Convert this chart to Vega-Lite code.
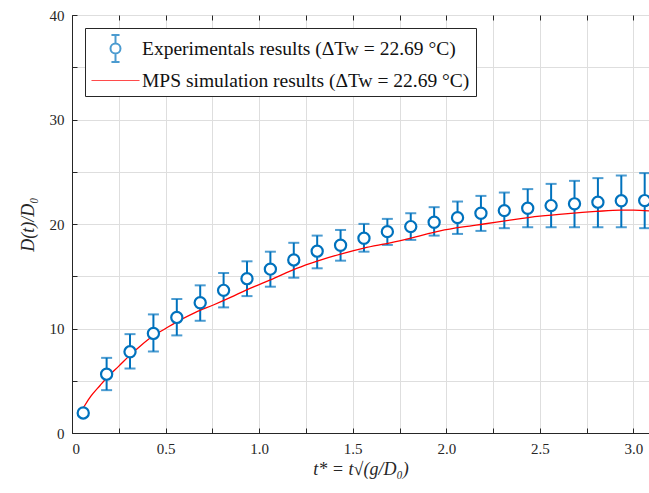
{
  "$schema": "https://vega.github.io/schema/vega-lite/v6.json",
  "width": 577,
  "height": 418,
  "autosize": {"type": "none"},
  "padding": {"left": 72, "top": 15, "right": 0, "bottom": 60},
  "background": "white",
  "config": {
    "view": {"stroke": "#262626", "strokeWidth": 1},
    "font": "Liberation Serif",
    "axis": {
      "domainColor": "#262626",
      "tickColor": "#262626",
      "labelColor": "#262626",
      "titleColor": "#262626",
      "labelFont": "Liberation Serif",
      "titleFont": "Liberation Serif",
      "labelFontSize": 15,
      "titleFontSize": 18,
      "titleFontWeight": "normal",
      "titleFontStyle": "italic",
      "gridColor": "#dedede",
      "gridWidth": 1,
      "tickSize": -5,
      "tickWidth": 1
    },
    "axisX": {"labelFont": "Liberation Serif"},
    "axisY": {
      "labelFont": "Liberation Serif",
      "values": [0, 5, 10, 15, 20, 25, 30, 35, 40],
      "labelExpr": "datum.value % 10 == 0 ? datum.label : ''",
      "grid": true,
      "labelPadding": 13,
      "titlePadding": 12
    },
    "legend": {
      "orient": "top-left",
      "offset": 13,
      "fillColor": "white",
      "strokeColor": "#262626",
      "padding": 6,
      "labelFont": "Liberation Serif",
      "labelFontSize": 19.5,
      "labelColor": "#111111",
      "labelLimit": 600,
      "symbolSize": 729,
      "symbolOffset": 10,
      "rowPadding": -1,
      "labelOffset": 12
    }
  },
  "datasets": {
    "exp": [
      {"t": 0.06, "y": 1.92, "lo": 1.8, "hi": 2.05, "series": "Experimentals results (ΔTw = 22.69 °C)"},
      {"t": 0.185, "y": 5.63, "lo": 4.1, "hi": 7.19, "series": "Experimentals results (ΔTw = 22.69 °C)"},
      {"t": 0.31, "y": 7.77, "lo": 6.17, "hi": 9.46, "series": "Experimentals results (ΔTw = 22.69 °C)"},
      {"t": 0.435, "y": 9.53, "lo": 7.8, "hi": 11.35, "series": "Experimentals results (ΔTw = 22.69 °C)"},
      {"t": 0.56, "y": 11.06, "lo": 9.34, "hi": 12.82, "series": "Experimentals results (ΔTw = 22.69 °C)"},
      {"t": 0.685, "y": 12.46, "lo": 10.74, "hi": 14.13, "series": "Experimentals results (ΔTw = 22.69 °C)"},
      {"t": 0.81, "y": 13.65, "lo": 12.02, "hi": 15.31, "series": "Experimentals results (ΔTw = 22.69 °C)"},
      {"t": 0.935, "y": 14.77, "lo": 13.1, "hi": 16.43, "series": "Experimentals results (ΔTw = 22.69 °C)"},
      {"t": 1.06, "y": 15.68, "lo": 14.0, "hi": 17.35, "series": "Experimentals results (ΔTw = 22.69 °C)"},
      {"t": 1.185, "y": 16.56, "lo": 14.86, "hi": 18.2, "series": "Experimentals results (ΔTw = 22.69 °C)"},
      {"t": 1.31, "y": 17.4, "lo": 15.76, "hi": 18.89, "series": "Experimentals results (ΔTw = 22.69 °C)"},
      {"t": 1.435, "y": 17.97, "lo": 16.49, "hi": 19.43, "series": "Experimentals results (ΔTw = 22.69 °C)"},
      {"t": 1.56, "y": 18.64, "lo": 17.35, "hi": 20.01, "series": "Experimentals results (ΔTw = 22.69 °C)"},
      {"t": 1.685, "y": 19.27, "lo": 18.0, "hi": 20.49, "series": "Experimentals results (ΔTw = 22.69 °C)"},
      {"t": 1.81, "y": 19.75, "lo": 18.48, "hi": 21.03, "series": "Experimentals results (ΔTw = 22.69 °C)"},
      {"t": 1.935, "y": 20.17, "lo": 18.89, "hi": 21.61, "series": "Experimentals results (ΔTw = 22.69 °C)"},
      {"t": 2.06, "y": 20.61, "lo": 19.05, "hi": 22.15, "series": "Experimentals results (ΔTw = 22.69 °C)"},
      {"t": 2.185, "y": 21.03, "lo": 19.34, "hi": 22.69, "series": "Experimentals results (ΔTw = 22.69 °C)"},
      {"t": 2.31, "y": 21.28, "lo": 19.6, "hi": 23.01, "series": "Experimentals results (ΔTw = 22.69 °C)"},
      {"t": 2.435, "y": 21.51, "lo": 19.69, "hi": 23.34, "series": "Experimentals results (ΔTw = 22.69 °C)"},
      {"t": 2.56, "y": 21.76, "lo": 19.69, "hi": 23.84, "series": "Experimentals results (ΔTw = 22.69 °C)"},
      {"t": 2.685, "y": 21.93, "lo": 19.69, "hi": 24.13, "series": "Experimentals results (ΔTw = 22.69 °C)"},
      {"t": 2.81, "y": 22.09, "lo": 19.69, "hi": 24.39, "series": "Experimentals results (ΔTw = 22.69 °C)"},
      {"t": 2.935, "y": 22.22, "lo": 19.69, "hi": 24.64, "series": "Experimentals results (ΔTw = 22.69 °C)"},
      {"t": 3.06, "y": 22.24, "lo": 19.6, "hi": 24.87, "series": "Experimentals results (ΔTw = 22.69 °C)"}
    ],
    "sim": [
      {"t": 0.037, "y": 1.75}, {"t": 0.06, "y": 2.4}, {"t": 0.1, "y": 3.5}, {"t": 0.15, "y": 4.55},
      {"t": 0.2, "y": 5.55}, {"t": 0.25, "y": 6.4}, {"t": 0.31, "y": 7.45}, {"t": 0.37, "y": 8.4},
      {"t": 0.434, "y": 9.3}, {"t": 0.5, "y": 10.0}, {"t": 0.577, "y": 10.8}, {"t": 0.66, "y": 11.55},
      {"t": 0.755, "y": 12.25}, {"t": 0.85, "y": 13.0}, {"t": 0.933, "y": 13.7}, {"t": 1.0, "y": 14.2},
      {"t": 1.06, "y": 14.65}, {"t": 1.2, "y": 15.75}, {"t": 1.31, "y": 16.45}, {"t": 1.45, "y": 17.2},
      {"t": 1.56, "y": 17.7}, {"t": 1.7, "y": 18.2}, {"t": 1.81, "y": 18.65}, {"t": 1.967, "y": 19.35},
      {"t": 2.1, "y": 19.75}, {"t": 2.2, "y": 20.0}, {"t": 2.35, "y": 20.4}, {"t": 2.5, "y": 20.75},
      {"t": 2.65, "y": 21.0}, {"t": 2.8, "y": 21.2}, {"t": 2.93, "y": 21.33}, {"t": 3.0, "y": 21.33},
      {"t": 3.083, "y": 21.25}
    ]
  },
  "resolve": {"axis": {"x": "independent"}},
  "layer": [
    {
      "data": {"name": "exp"},
      "mark": {"type": "rule", "color": "#0072BD", "strokeWidth": 2},
      "encoding": {
        "x": {
          "field": "t", "type": "quantitative",
          "scale": {"domain": [0, 3.083], "nice": false, "zero": false},
          "axis": {
            "orient": "bottom",
            "values": [0, 0.25, 0.5, 0.75, 1, 1.25, 1.5, 1.75, 2, 2.25, 2.5, 2.75, 3],
            "labelExpr": "datum.value % 0.5 == 0 ? (datum.value == 0 ? '0' : format(datum.value, '.1f')) : ''",
            "grid": true,
            "labelFont": "Liberation Serif",
            "labelPadding": 13,
            "title": "t* = t√(g/D₀)",
            "titlePadding": 4
          }
        },
        "y": {
          "field": "lo", "type": "quantitative",
          "scale": {"domain": [0, 40], "nice": false},
          "title": "D(t)/D₀"
        },
        "y2": {"field": "hi"}
      }
    },
    {
      "data": {"name": "exp"},
      "mark": {"type": "tick", "orient": "horizontal", "color": "#0072BD", "size": 11, "thickness": 2},
      "encoding": {
        "x": {"field": "t", "type": "quantitative", "axis": null},
        "y": {"field": "hi", "type": "quantitative", "title": "D(t)/D₀"}
      }
    },
    {
      "data": {"name": "exp"},
      "mark": {"type": "tick", "orient": "horizontal", "color": "#0072BD", "size": 11, "thickness": 2},
      "encoding": {
        "x": {"field": "t", "type": "quantitative", "axis": null},
        "y": {"field": "lo", "type": "quantitative", "title": "D(t)/D₀"}
      }
    },
    {
      "data": {"name": "sim"},
      "mark": {"type": "line", "color": "#FF0000", "strokeWidth": 1.3, "interpolate": "monotone"},
      "encoding": {
        "x": {
          "field": "t", "type": "quantitative",
          "axis": {"orient": "top", "labels": false, "grid": false, "domain": false, "title": null,
                   "values": [0, 0.25, 0.5, 0.75, 1, 1.25, 1.5, 1.75, 2, 2.25, 2.5, 2.75, 3]}
        },
        "y": {"field": "y", "type": "quantitative", "title": "D(t)/D₀"}
      }
    },
    {
      "data": {"name": "exp"},
      "mark": {"type": "point", "shape": "circle", "filled": false, "fill": "white", "fillOpacity": 1, "stroke": "#0072BD", "strokeWidth": 2.2, "size": 125, "opacity": 1},
      "encoding": {
        "x": {"field": "t", "type": "quantitative", "axis": null},
        "y": {"field": "y", "type": "quantitative", "title": "D(t)/D₀"}
      }
    },
    {
      "data": {"name": "exp"},
      "transform": [{"filter": "datum.t < 0"}],
      "mark": {"type": "point", "filled": false},
      "encoding": {
        "x": {"field": "t", "type": "quantitative", "axis": null},
        "y": {"field": "y", "type": "quantitative", "title": "D(t)/D₀"},
        "color": {
          "field": "series", "type": "nominal",
          "scale": {"domain": ["Experimentals results (ΔTw = 22.69 °C)", "MPS simulation results (ΔTw = 22.69 °C)"], "range": ["#0072BD", "#FF0000"]},
          "legend": {"title": null}
        },
        "shape": {
          "field": "series", "type": "nominal",
          "scale": {"domain": ["Experimentals results (ΔTw = 22.69 °C)", "MPS simulation results (ΔTw = 22.69 °C)"],
                    "range": ["M0,-1L0,-0.37M0,0.37L0,1M-0.3,-1L0.3,-1M-0.3,1L0.3,1M-0.37,0A0.37,0.37,0,1,0,0.37,0A0.37,0.37,0,1,0,-0.37,0", "M-1.78,0L1.78,0"]},
          "legend": {"title": null}
        },
        "strokeWidth": {
          "field": "series", "type": "nominal",
          "scale": {"domain": ["Experimentals results (ΔTw = 22.69 °C)", "MPS simulation results (ΔTw = 22.69 °C)"], "range": [2, 1.2]},
          "legend": {"title": null}
        }
      }
    }
  ]
}
